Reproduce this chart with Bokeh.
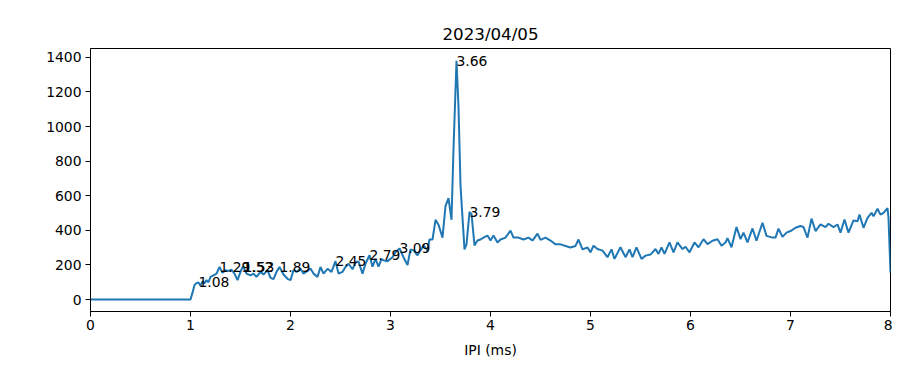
import numpy as np
from bokeh.plotting import figure
from bokeh.models import Range1d, FixedTicker, ColumnDataSource
from bokeh.core.properties import value
from bokeh.embed import file_html
from bokeh.resources import INLINE

title_text = "2023/04/05"
x_label = "IPI (ms)"

ipi = [0.00, 0.50, 1.00, 1.02, 1.04, 1.06, 1.08, 1.10, 1.12, 1.14, 1.16, 1.18, 1.20, 1.23, 1.26,
       1.29, 1.32, 1.35, 1.38, 1.41, 1.44, 1.47, 1.50, 1.52, 1.53, 1.56, 1.60, 1.63, 1.66, 1.70,
       1.73, 1.77, 1.80, 1.83, 1.86, 1.89, 1.93, 1.97, 2.00, 2.03, 2.06, 2.10, 2.13, 2.17, 2.20,
       2.23, 2.27, 2.30, 2.33, 2.37, 2.41, 2.45, 2.48, 2.52, 2.55, 2.58, 2.62, 2.65, 2.68, 2.72,
       2.75, 2.79, 2.82, 2.85, 2.88, 2.91, 2.94, 2.97, 3.02, 3.05, 3.09, 3.13, 3.17, 3.20, 3.23,
       3.27, 3.30, 3.33, 3.37, 3.39, 3.42, 3.45, 3.48, 3.52, 3.55, 3.58, 3.61, 3.63, 3.66, 3.68,
       3.70, 3.72, 3.74, 3.76, 3.79, 3.81, 3.84, 3.87, 3.90, 3.93, 3.97, 4.00, 4.03, 4.07, 4.10,
       4.15, 4.20, 4.23, 4.28, 4.33, 4.38, 4.42, 4.47, 4.50, 4.55, 4.60, 4.65, 4.70, 4.75, 4.80,
       4.85, 4.88, 4.92, 4.97, 5.00, 5.03, 5.07, 5.12, 5.17, 5.21, 5.24, 5.30, 5.35, 5.39, 5.42,
       5.46, 5.51, 5.55, 5.60, 5.65, 5.68, 5.71, 5.74, 5.79, 5.83, 5.87, 5.92, 5.95, 5.99, 6.04,
       6.08, 6.13, 6.17, 6.22, 6.27, 6.31, 6.35, 6.37, 6.41, 6.46, 6.50, 6.53, 6.57, 6.62, 6.66,
       6.72, 6.76, 6.82, 6.85, 6.88, 6.92, 6.96, 7.00, 7.05, 7.10, 7.13, 7.17, 7.21, 7.25, 7.30,
       7.35, 7.38, 7.43, 7.47, 7.50, 7.54, 7.58, 7.63, 7.67, 7.69, 7.73, 7.77, 7.81, 7.83, 7.87,
       7.90, 7.93, 7.97, 7.98, 8.00]

counts = [0, 0, 0, 40, 84, 95, 99, 80, 105, 95, 112, 100, 131, 140, 150,
          188, 155, 170, 165, 172, 150, 112, 160, 188, 188, 150, 140, 150, 131, 160,
          145, 170, 125, 118, 160, 188, 145, 120, 112, 170, 160, 178, 150, 165, 180,
          150, 131, 188, 150, 178, 160, 222, 150, 160, 188, 207, 175, 216, 220, 150,
          207, 256, 190, 235, 190, 233, 225, 222, 245, 273, 296, 245, 200, 290, 284,
          256, 284, 313, 284, 347, 347, 461, 432, 358, 540, 586, 461, 870, 1380, 1115,
          660, 472, 290, 319, 506, 495, 313, 341, 347, 358, 370, 341, 370, 330, 347,
          358, 398, 358, 358, 347, 358, 341, 381, 345, 358, 341, 319, 319, 310, 301,
          310, 347, 290, 301, 273, 311, 292, 283, 245, 290, 235, 302, 245, 290, 245,
          302, 235, 254, 260, 292, 264, 302, 264, 330, 273, 330, 292, 305, 273, 330,
          302, 349, 320, 340, 349, 311, 330, 355, 302, 419, 349, 387, 330, 411, 340,
          444, 368, 358, 358, 410, 362, 387, 396, 415, 425, 419, 358, 468, 396, 434,
          419, 438, 419, 434, 387, 463, 387, 457, 453, 491, 415, 472, 501, 482, 525,
          491, 501, 529, 472, 155]

peak_x = [1.08, 1.29, 1.52, 1.53, 1.89, 2.45, 2.79, 3.09, 3.66, 3.79]
peak_labels = ["1.08", "1.29", "1.52", "1.53", "1.89", "2.45", "2.79", "3.09", "3.66", "3.79"]

W, H = 892, 360
p = figure(width=W, height=H, output_backend="svg", toolbar_location=None,
           x_range=Range1d(0, 8), y_range=Range1d(-69, 1451),
           min_border_left=90, min_border_right=2, min_border_top=48, min_border_bottom=44)

p.line(ipi, counts, line_color="#1f77b4", line_width=2)

peak_y = list(np.interp(peak_x, ipi, counts))
src = ColumnDataSource(dict(x=peak_x, y=peak_y, t=peak_labels))
p.text("x", "y", text="t", source=src, text_font=value("DejaVu Sans"),
       text_font_size="13.9px", text_color="black", text_align="left",
       text_baseline="alphabetic")

p.title.text = title_text
p.title.align = "center"
p.title.text_font = "DejaVu Sans"
p.title.text_font_size = "16.7px"
p.title.text_font_style = "normal"
p.title.text_color = "black"

p.grid.visible = False
p.outline_line_color = "black"
p.outline_line_width = 1
p.outline_line_alpha = 1

p.xaxis.ticker = FixedTicker(ticks=[0, 1, 2, 3, 4, 5, 6, 7, 8])
p.yaxis.ticker = FixedTicker(ticks=[0, 200, 400, 600, 800, 1000, 1200, 1400])
p.xaxis.axis_label = x_label
for ax in (p.xaxis, p.yaxis):
    ax.axis_line_color = "black"
    ax.major_tick_line_color = "black"
    ax.major_tick_in = 0
    ax.major_tick_out = 5
    ax.minor_tick_line_color = None
    ax.major_label_text_font = "DejaVu Sans"
    ax.major_label_text_font_size = "13.9px"
    ax.major_label_text_color = "black"
    ax.axis_label_text_font = "DejaVu Sans"
    ax.axis_label_text_font_size = "13.9px"
    ax.axis_label_text_font_style = "normal"
    ax.axis_label_text_color = "black"
p.xaxis.major_label_standoff = 3
p.yaxis.major_label_standoff = 4
p.xaxis.axis_label_standoff = 9

open("out.html", "w").write(file_html(p, INLINE))
